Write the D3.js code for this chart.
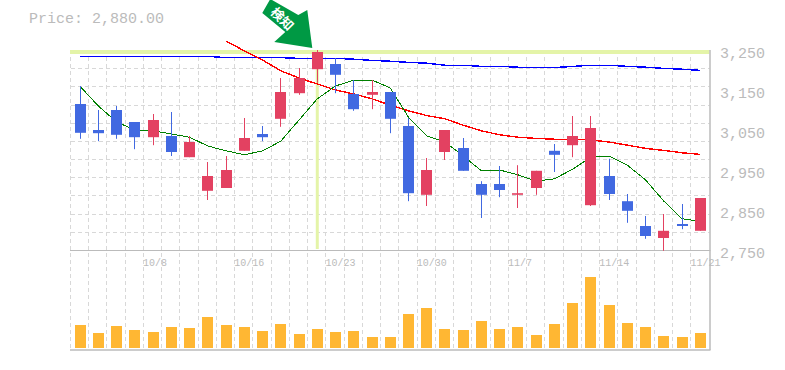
<!DOCTYPE html>
<html>
<head>
<meta charset="utf-8">
<script src="https://cdn.jsdelivr.net/npm/d3@7"></script>
<style>
    html, body { margin: 0; padding: 0; background: #fff; }
    svg { display: block; }
    text { font-family: "Liberation Mono", monospace; fill: #bbb; }
</style>
</head>
<body>
<div id="chart"></div>
<script>
// one entry per trading day
var highs = [3160, 3100, 3110, 3070, 3090, 3095, 3035, 2970, 2985, 3080, 3060, 3180, 3205, 3250, 3230, 3175, 3175, 3145, 3080, 2980, 3050, 3030, 2922, 2960, 2962, 2948, 3015, 3085, 3085, 2978, 2890, 2835, 2840, 2865, 2880];
var opens = [3115, 3050, 3100, 3070, 3032, 3035, 2982, 2898, 2905, 2998, 3040, 3078, 3142, 3202, 3215, 3140, 3138, 3145, 3060, 2888, 2995, 3005, 2915, 2915, 2888, 2905, 2998, 3012, 2862, 2935, 2872, 2810, 2780, 2815, 2798];
var closes = [3043, 3042, 3038, 3032, 3075, 2995, 3020, 2935, 2950, 3030, 3032, 3145, 3180, 3245, 3188, 3102, 3145, 3078, 2892, 2950, 3050, 2948, 2888, 2900, 2892, 2948, 2988, 3035, 3055, 2890, 2848, 2785, 2798, 2810, 2880];
var lows = [3028, 3022, 3028, 3002, 3012, 2985, 2982, 2875, 2905, 2998, 3022, 3058, 3138, 3168, 3142, 3098, 3102, 3042, 2872, 2860, 2975, 2948, 2830, 2882, 2855, 2888, 2945, 2982, 2860, 2875, 2818, 2778, 2748, 2802, 2798];
var volumes = [23, 15, 22, 18, 16, 21, 20, 31, 23, 21, 17, 24, 14, 19, 16, 17, 11, 11, 34, 40, 19, 18, 27, 19, 21, 13, 24, 45, 71, 43, 25, 21, 12, 11, 15];

var maShort = [3159, 3110, 3070, 3050, 3048, 3040, 3032, 3010, 2998, 2988, 2998, 3022, 3075, 3128, 3160, 3175, 3175, 3155, 3082, 3035, 3020, 2985, 2948, 2950, 2938, 2922, 2928, 2952, 2982, 2985, 2962, 2925, 2872, 2828, 2822];
// the middle average only starts on day 9
var maMid = [null, null, null, null, null, null, null, null, 3272, 3248, 3225, 3198, 3180, 3165, 3150, 3140, 3128, 3112, 3098, 3086, 3078, 3062, 3048, 3038, 3032, 3029, 3027, 3027, 3025, 3020, 3012, 3004, 2999, 2993, 2989];
var maLong = [3234, 3234, 3234, 3234, 3234, 3234, 3234, 3234, 3231, 3231, 3231, 3231, 3229, 3229, 3229, 3227, 3224, 3222, 3219, 3217, 3212, 3212, 3209, 3209, 3207, 3206, 3206, 3209, 3212, 3212, 3209, 3207, 3204, 3202, 3199];

var priceTicks = [2750, 2850, 2950, 3050, 3150, 3250];
var dateTicks = [4, 9, 14, 19, 24, 29, 34];
var dateLabels = ['10/8', '10/16', '10/23', '10/30', '11/7', '11/14', '11/21'];
var markedDay = 13;
var markedPrice = 3245;
var markLabel = '検知';

var days = d3.range(highs.length);
var upColor = '#e34161';
var downColor = '#4169e1';
var bandColor = '#e4f4a8';
var gridColor = '#d8d8d8';
var frameColor = '#bbb';

var x = d3.scaleBand()
    .domain(days)
    .range([71, 709.5]);

var y = d3.scaleLinear()
    .domain([2750, 3250])
    .range([250, 50]);

var yVolume = d3.scaleLinear()
    .domain([0, 100])
    .range([348, 248]);

var center = function(d) { return x(d) + x.bandwidth() / 2; };

var svg = d3.select('#chart')
    .append('svg')
    .attr('width', 785)
    .attr('height', 370);

// dashed grid, 11 rows over the price pane
var gridRows = d3.range(12).map(function(i) { return 2750 + i * 500 / 11; });

svg.append('g')
    .selectAll('line')
    .data(gridRows)
    .enter()
    .append('line')
    .attr('x1', x.range()[0])
    .attr('x2', x.range()[1])
    .attr('y1', function(d) { return Math.round(y(d)) + 0.5; })
    .attr('y2', function(d) { return Math.round(y(d)) + 0.5; })
    .attr('stroke', gridColor)
    .attr('stroke-dasharray', '4,3');

svg.append('g')
    .selectAll('line')
    .data(days)
    .enter()
    .append('line')
    .attr('x1', function(d) { return Math.round(x(d)) - 0.5; })
    .attr('x2', function(d) { return Math.round(x(d)) - 0.5; })
    .attr('y1', y(3250))
    .attr('y2', yVolume(0) + 2)
    .attr('stroke', gridColor)
    .attr('stroke-dasharray', '4,3');

// highlight cross for the marked day
svg.append('rect')
    .attr('x', x.range()[0] - 1)
    .attr('y', y(markedPrice) - 2)
    .attr('width', x.range()[1] - x.range()[0] + 1)
    .attr('height', 4)
    .attr('fill', bandColor);

svg.append('rect')
    .attr('x', center(markedDay) - 1.5)
    .attr('y', y(3250))
    .attr('width', 3)
    .attr('height', y(2750) - y(3250) - 1)
    .attr('fill', bandColor);

// frame
svg.append('line')
    .attr('x1', x.range()[0] - 1).attr('x2', x.range()[1] + 1)
    .attr('y1', 250.5).attr('y2', 250.5)
    .attr('stroke', frameColor);
svg.append('line')
    .attr('x1', x.range()[0] - 1).attr('x2', x.range()[1] + 1)
    .attr('y1', yVolume(0) + 2).attr('y2', yVolume(0) + 2)
    .attr('stroke', frameColor)
    .attr('stroke-width', 1.5);
svg.append('line')
    .attr('x1', x.range()[1] + 0.5).attr('x2', x.range()[1] + 0.5)
    .attr('y1', y(3250)).attr('y2', yVolume(0) + 2)
    .attr('stroke', frameColor)
    .attr('stroke-width', 1.5);

// moving averages sit under the candles
var lineGenerator = d3.line()
    .defined(function(d) { return d[1] !== null; })
    .x(function(d) { return center(d[0]); })
    .y(function(d) { return y(d[1]); });

var averages = [
    { values: maLong, color: '#0000ff', width: 1.4 },
    { values: maMid, color: '#ff0000', width: 1.4 },
    { values: maShort, color: '#008000', width: 1 }
];

svg.append('g')
    .selectAll('path')
    .data(averages)
    .enter()
    .append('path')
    .attr('fill', 'none')
    .attr('stroke', function(d) { return d.color; })
    .attr('stroke-width', function(d) { return d.width; })
    .attr('shape-rendering', 'crispEdges')
    .attr('d', function(d) {
        return lineGenerator(d.values.map(function(v, i) { return [i, v]; }));
    });

// candles
var dayColor = function(d) { return closes[d] > opens[d] ? upColor : downColor; };

svg.append('g')
    .selectAll('line')
    .data(days)
    .enter()
    .append('line')
    .attr('x1', function(d) { return Math.floor(center(d)) + 0.5; })
    .attr('x2', function(d) { return Math.floor(center(d)) + 0.5; })
    .attr('y1', function(d) { return y(highs[d]); })
    .attr('y2', function(d) { return y(lows[d]); })
    .attr('stroke', dayColor);

svg.append('g')
    .selectAll('rect')
    .data(days)
    .enter()
    .append('rect')
    .attr('x', function(d) { return Math.floor(center(d)) - 5; })
    .attr('y', function(d) { return y(Math.max(opens[d], closes[d])); })
    .attr('width', 11)
    .attr('height', function(d) { return Math.abs(y(opens[d]) - y(closes[d])); })
    .attr('fill', dayColor);

// volume
svg.append('g')
    .selectAll('rect')
    .data(days)
    .enter()
    .append('rect')
    .attr('x', function(d) { return Math.floor(center(d)) - 5; })
    .attr('y', function(d) { return yVolume(volumes[d]); })
    .attr('width', 11)
    .attr('height', function(d) { return yVolume(0) - yVolume(volumes[d]); })
    .attr('fill', '#ffb733');

// axis labels
var formatPrice = d3.format(',');

svg.append('g')
    .selectAll('text')
    .data(priceTicks)
    .enter()
    .append('text')
    .attr('x', 720)
    .attr('y', function(d) { return y(d) + 8; })
    .attr('font-size', '15px')
    .text(function(d) { return formatPrice(d); });

svg.append('g')
    .selectAll('text')
    .data(dateTicks)
    .enter()
    .append('text')
    .attr('x', function(d) { return center(d) - 10; })
    .attr('y', 266)
    .attr('font-size', '10px')
    .text(function(d, i) { return dateLabels[i]; });

svg.append('text')
    .attr('x', 29)
    .attr('y', 23)
    .attr('font-size', '15px')
    .text('Price: ' + d3.format(',.2f')(closes[closes.length - 1]));

// arrow pointing at the marked day's high
var arrow = svg.append('g')
    .attr('transform', 'translate(' + (center(markedDay) - 5) + ',' + (y(highs[markedDay]) - 2) + ')');

arrow.append('path')
    .attr('d', 'M0,0 L-38,-6 L-27,-16 L-50,-35 L-42,-49 L-14,-33 L-5,-38 Z')
    .attr('fill', '#009944');

arrow.append('text')
    .attr('transform', 'translate(-30,-29) rotate(45)')
    .attr('text-anchor', 'middle')
    .attr('dy', '0.35em')
    .attr('font-size', '13px')
    .attr('font-weight', 'bold')
    .style('font-family', '"Noto Sans CJK JP"')
    .style('fill', '#fff')
    .text(markLabel);
</script>
</body>
</html>
